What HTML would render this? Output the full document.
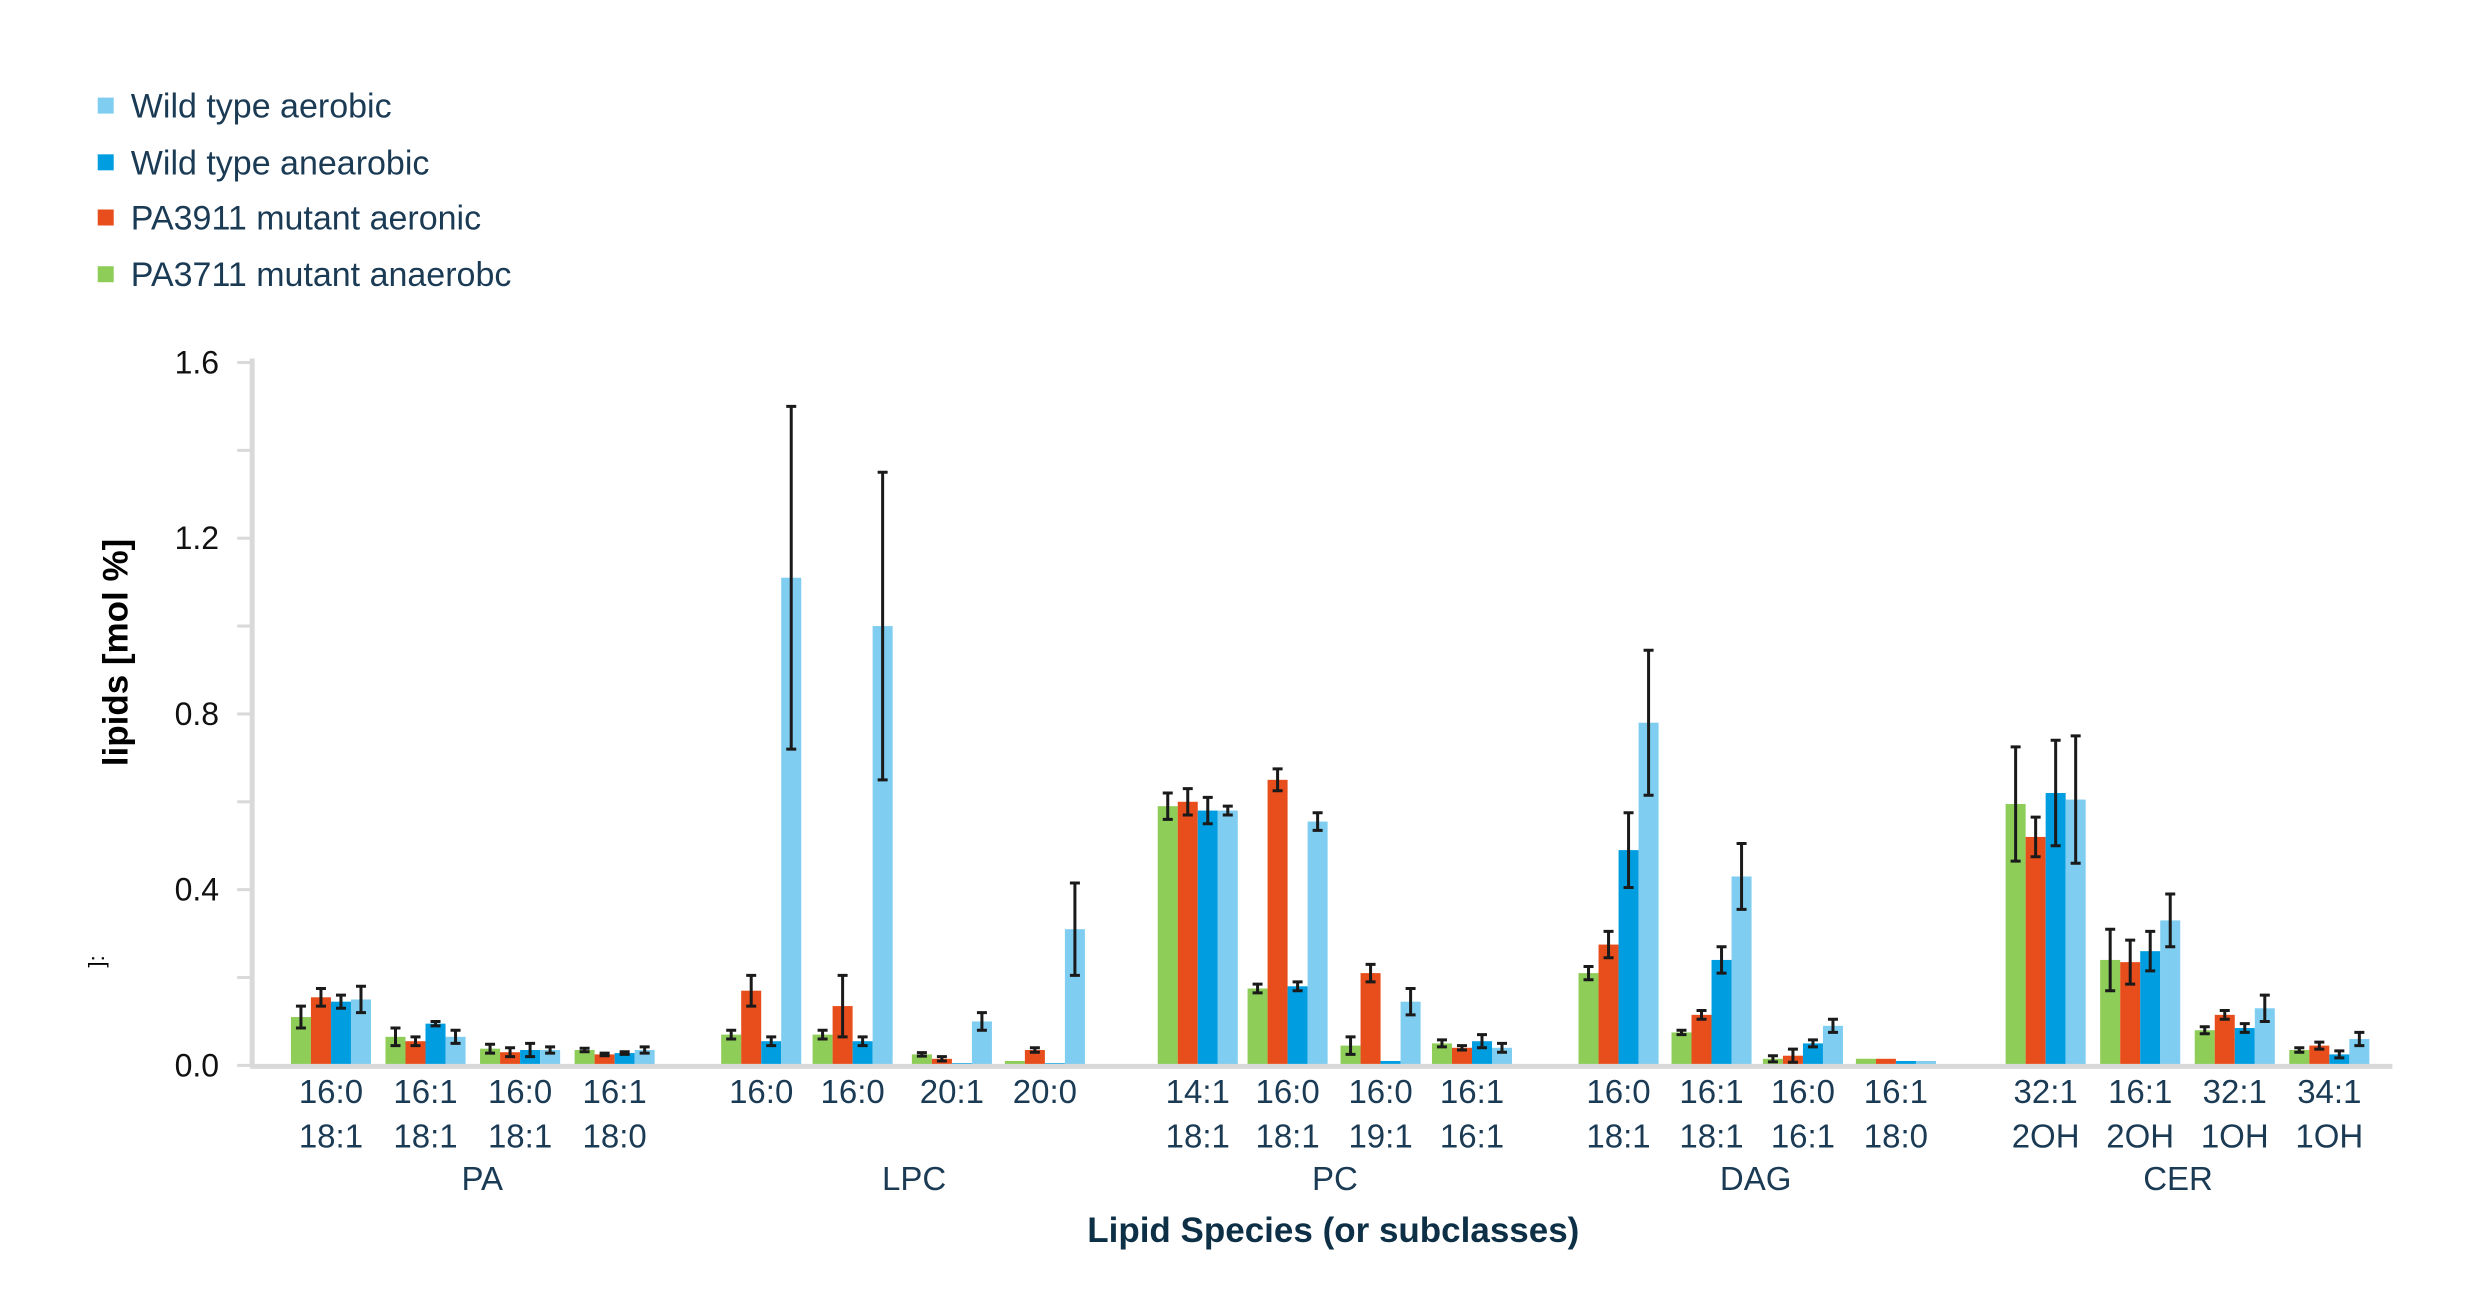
<!DOCTYPE html>
<html><head><meta charset="utf-8"><style>
html,body{margin:0;padding:0;background:#fff;}
svg{display:block;}
</style></head><body>
<svg id="c" width="2470" height="1290" xmlns="http://www.w3.org/2000/svg" font-family="Liberation Sans, sans-serif"></svg>
<script>
const S=1.576, Y0=676*S, PU=(676-230)*S/1.6;
const cols=['#8dcd58','#e84e1b','#009ee0','#7fcdf0'];
const cats=[
[210,'16:0','18:1',[[.11,.025],[.155,.02],[.145,.015],[.15,.03]]],
[270,'16:1','18:1',[[.065,.02],[.055,.01],[.095,.005],[.065,.015]]],
[330,'16:0','18:1',[[.038,.01],[.03,.01],[.035,.015],[.035,.007]]],
[390,'16:1','18:0',[[.035,.004],[.025,.003],[.028,.003],[.035,.007]]],
[483,'16:0','',[[.07,.01],[.17,.035],[.055,.01],[1.11,.39]]],
[541,'16:0','',[[.07,.01],[.135,.07],[.055,.01],[1.0,.35]]],
[604,'20:1','',[[.025,.004],[.015,.005],[.005,0],[.1,.02]]],
[663,'20:0','',[[.01,0],[.035,.005],[.005,0],[.31,.105]]],
[760,'14:1','18:1',[[.59,.03],[.6,.03],[.58,.03],[.58,.01]]],
[817,'16:0','18:1',[[.175,.01],[.65,.025],[.18,.01],[.555,.02]]],
[876,'16:0','19:1',[[.045,.02],[.21,.02],[.01,0],[.145,.03]]],
[934,'16:1','16:1',[[.05,.008],[.04,.005],[.055,.015],[.04,.01]]],
[1027,'16:0','18:1',[[.21,.015],[.275,.03],[.49,.085],[.78,.165]]],
[1086,'16:1','18:1',[[.075,.005],[.115,.01],[.24,.03],[.43,.075]]],
[1144,'16:0','16:1',[[.015,.007],[.022,.015],[.05,.008],[.09,.015]]],
[1203,'16:1','18:0',[[.015,0],[.015,0],[.01,0],[.01,0]]],
[1298,'32:1','2OH',[[.595,.13],[.52,.045],[.62,.12],[.605,.145]]],
[1358,'16:1','2OH',[[.24,.07],[.235,.05],[.26,.045],[.33,.06]]],
[1418,'32:1','1OH',[[.08,.008],[.115,.01],[.085,.01],[.13,.03]]],
[1478,'34:1','1OH',[[.035,.005],[.045,.008],[.025,.008],[.06,.015]]]];
let h='';
const tc='#1b3b55';
const leg=['Wild type aerobic','Wild type anearobic','PA3911 mutant aeronic','PA3711 mutant anaerobc'];
const lc=[cols[3],cols[2],cols[1],cols[0]];
[67,103,138,174].forEach((y,i)=>{const yy=y*S;
h+=`<rect x="${62*S}" y="${yy-8}" width="16" height="16" fill="${lc[i]}"/>`;
h+=`<text x="${83*S}" y="${yy+12}" font-size="34" fill="${tc}">${leg[i]}</text>`;});
const AX=160*S;
for(let v=0;v<=1.6001;v+=0.2){const y=Y0-v*PU;h+=`<line x1="${AX-15}" x2="${AX}" y1="${y}" y2="${y}" stroke="#d9d9d9" stroke-width="3"/>`;}
['0.0','0.4','0.8','1.2','1.6'].forEach((t,i)=>{const y=Y0-i*0.4*PU;h+=`<text x="${139*S}" y="${y+11}" font-size="32" text-anchor="end" fill="#111">${t}</text>`;});
h+=`<line x1="${AX}" x2="${AX}" y1="${Y0-1.6*PU-4}" y2="${Y0+2}" stroke="#d9d9d9" stroke-width="5"/>`;
const bw=12.7*S;
cats.forEach(c=>{const cx=c[0]*S;c[3].forEach((d,i)=>{const x=cx-2*bw+i*bw;const ht=d[0]*PU;
h+=`<rect x="${x}" y="${Y0-ht}" width="${bw}" height="${ht}" fill="${cols[i]}"/>`;});});
h+=`<line x1="${AX-2}" x2="${1518*S}" y1="${Y0+1}" y2="${Y0+1}" stroke="#d9d9d9" stroke-width="5"/>`;
cats.forEach(c=>{const cx=c[0]*S;c[3].forEach((d,i)=>{if(!d[1])return;const x=cx-2*bw+i*bw+bw/2;const t=Y0-(d[0]+d[1])*PU,b=Y0-(d[0]-d[1])*PU;
h+=`<path d="M${x} ${t}V${b}M${x-5} ${t}H${x+5}M${x-5} ${b}H${x+5}" stroke="#1a1a1a" stroke-width="3" fill="none"/>`;});
h+=`<text x="${cx}" y="${700*S}" font-size="33" text-anchor="middle" fill="${tc}">${c[1]}</text>`;
if(c[2])h+=`<text x="${cx}" y="${728*S}" font-size="33" text-anchor="middle" fill="${tc}">${c[2]}</text>`;});
[['PA',306],['LPC',580],['PC',847],['DAG',1114],['CER',1382]].forEach(g=>{h+=`<text x="${g[1]*S}" y="${755*S}" font-size="33" text-anchor="middle" fill="${tc}">${g[0]}</text>`;});
h+=`<text x="${846*S}" y="${788*S}" font-size="35" font-weight="bold" text-anchor="middle" fill="#0d3047">Lipid Species (or subclasses)</text>`;
h+=`<text transform="translate(${81*S},${414*S}) rotate(-90)" font-size="35" font-weight="bold" text-anchor="middle" fill="#000">lipids [mol %]</text>`;
h+=`<text transform="translate(${66*S},${610*S}) rotate(-90)" font-size="22" text-anchor="middle" fill="#000">]:</text>`;
document.getElementById('c').innerHTML=h;
</script>
</body></html>
